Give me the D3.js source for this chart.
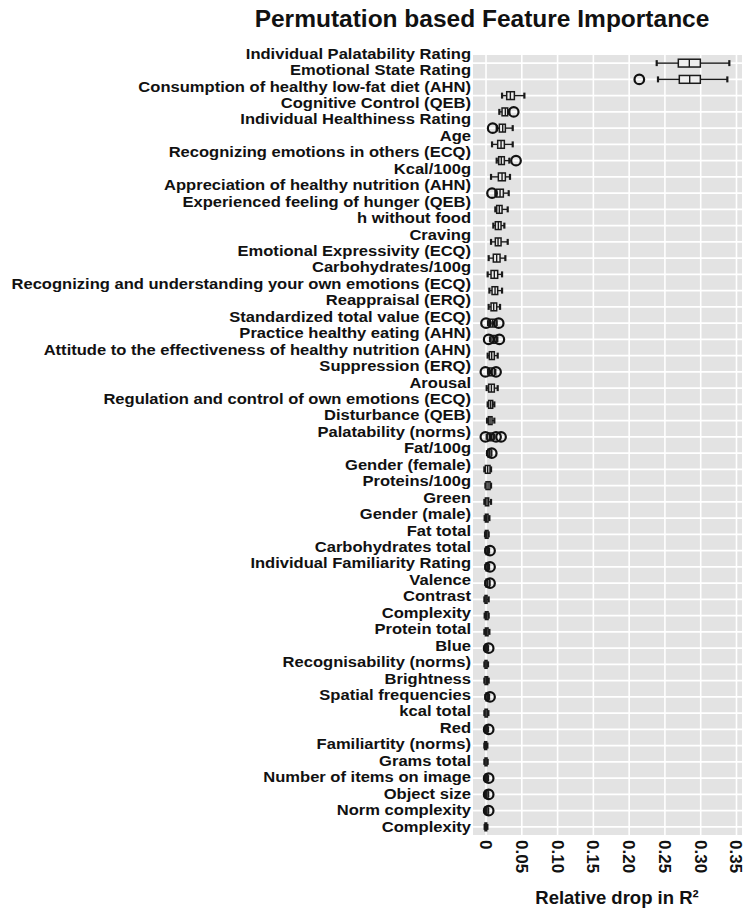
<!DOCTYPE html>
<html>
<head>
<meta charset="utf-8">
<script src="https://cdn.jsdelivr.net/npm/d3@7"></script>
<style>
  html, body { margin: 0; padding: 0; background: #ffffff; }
  svg { display: block; }
  text { font-family: "Liberation Sans", Arial, Helvetica, sans-serif; font-weight: bold; fill: #111; }
</style>
</head>
<body>
<div id="chart"></div>
<script>
const categories = [
  "Individual Palatability Rating",
  "Emotional State Rating",
  "Consumption of healthy low-fat diet (AHN)",
  "Cognitive Control (QEB)",
  "Individual Healthiness Rating",
  "Age",
  "Recognizing emotions in others (ECQ)",
  "Kcal/100g",
  "Appreciation of healthy nutrition (AHN)",
  "Experienced feeling of hunger (QEB)",
  "h without food",
  "Craving",
  "Emotional Expressivity (ECQ)",
  "Carbohydrates/100g",
  "Recognizing and understanding your own emotions (ECQ)",
  "Reappraisal (ERQ)",
  "Standardized total value (ECQ)",
  "Practice healthy eating (AHN)",
  "Attitude to the effectiveness of healthy nutrition (AHN)",
  "Suppression (ERQ)",
  "Arousal",
  "Regulation and control of own emotions (ECQ)",
  "Disturbance (QEB)",
  "Palatability (norms)",
  "Fat/100g",
  "Gender (female)",
  "Proteins/100g",
  "Green",
  "Gender (male)",
  "Fat total",
  "Carbohydrates total",
  "Individual Familiarity Rating",
  "Valence",
  "Contrast",
  "Complexity",
  "Protein total",
  "Blue",
  "Recognisability (norms)",
  "Brightness",
  "Spatial frequencies",
  "kcal total",
  "Red",
  "Familiartity (norms)",
  "Grams total",
  "Number of items on image",
  "Object size",
  "Norm complexity",
  "Complexity"
];

const whiskerLow = [0.2385, 0.2403, 0.0224, 0.0186, 0.0149, 0.0084, 0.0149, 0.0070, 0.0130, 0.0130, 0.0102, 0.0070,
  0.0037, 0.0023, 0.0047, 0.0037, 0.0028, 0.0056, 0.0023, 0.0028, 0.0009, 0.0023, 0.0014, 0.0009,
  0.0014, -0.0023, -0.0009, -0.0023, -0.0019, -0.0014, -0.0009, -0.0009, -0.0009, -0.0023, -0.0019, -0.0023,
  -0.0019, -0.0023, -0.0023, -0.0009, -0.0023, -0.0019, -0.0023, -0.0023, -0.0019, -0.0019, -0.0019, -0.0019];
const quartile1 = [0.2687, 0.2701, 0.0289, 0.0224, 0.0186, 0.0163, 0.0177, 0.0172, 0.0149, 0.0149, 0.0130, 0.0130,
  0.0102, 0.0070, 0.0084, 0.0070, 0.0047, 0.0070, 0.0047, 0.0047, 0.0037, 0.0037, 0.0033, 0.0023,
  0.0028, -0.0009, 0.0000, -0.0009, -0.0009, -0.0009, 0.0000, 0.0000, 0.0000, -0.0014, -0.0009, -0.0009,
  -0.0009, -0.0014, -0.0014, 0.0000, -0.0014, -0.0009, -0.0019, -0.0014, -0.0009, -0.0009, -0.0009, -0.0014];
const medians = [0.2841, 0.2846, 0.0340, 0.0270, 0.0233, 0.0210, 0.0214, 0.0224, 0.0196, 0.0186, 0.0172, 0.0168,
  0.0149, 0.0116, 0.0126, 0.0107, 0.0093, 0.0107, 0.0079, 0.0084, 0.0075, 0.0065, 0.0056, 0.0065,
  0.0047, 0.0023, 0.0028, 0.0014, 0.0009, 0.0009, 0.0019, 0.0019, 0.0023, 0.0000, 0.0009, 0.0009,
  0.0009, 0.0000, 0.0005, 0.0019, 0.0000, 0.0009, -0.0005, 0.0000, 0.0009, 0.0009, 0.0009, -0.0005];
const quartile3 = [0.2995, 0.2995, 0.0396, 0.0303, 0.0270, 0.0256, 0.0256, 0.0270, 0.0242, 0.0224, 0.0210, 0.0210,
  0.0196, 0.0163, 0.0163, 0.0149, 0.0140, 0.0149, 0.0116, 0.0116, 0.0116, 0.0093, 0.0084, 0.0102,
  0.0070, 0.0056, 0.0056, 0.0037, 0.0028, 0.0028, 0.0037, 0.0037, 0.0047, 0.0014, 0.0028, 0.0028,
  0.0023, 0.0014, 0.0023, 0.0037, 0.0019, 0.0023, 0.0009, 0.0014, 0.0023, 0.0028, 0.0028, 0.0009];
const whiskerHigh = [0.3400, 0.3372, 0.0536, 0.0326, 0.0373, 0.0373, 0.0326, 0.0335, 0.0317, 0.0303, 0.0256, 0.0303,
  0.0270, 0.0224, 0.0224, 0.0196, 0.0149, 0.0158, 0.0163, 0.0130, 0.0163, 0.0116, 0.0116, 0.0116,
  0.0075, 0.0070, 0.0070, 0.0070, 0.0047, 0.0037, 0.0042, 0.0042, 0.0050, 0.0037, 0.0037, 0.0047,
  0.0028, 0.0028, 0.0037, 0.0042, 0.0033, 0.0028, 0.0019, 0.0023, 0.0028, 0.0030, 0.0030, 0.0019];
const outliers = [[], [0.2142], [], [0.0387], [0.0093], [], [0.0419], [], [0.0084], [], [], [],
  [], [], [], [], [0.0000, 0.0177], [0.0037, 0.0186], [], [-0.0009, 0.0140], [], [], [], [-0.0009, 0.0140, 0.0210],
  [0.0080], [], [], [], [], [], [0.0056], [0.0056], [0.0056], [], [], [],
  [0.0037], [], [], [0.0056], [], [0.0037], [], [], [0.0037], [0.0037], [0.0037], []];

const xTicks = [0, 0.05, 0.10, 0.15, 0.20, 0.25, 0.30, 0.35];
const xTickLabels = ["0", "0.05", "0.10", "0.15", "0.20", "0.25", "0.30", "0.35"];
const chartTitle = "Permutation based Feature Importance";
const xTitle = "Relative drop in R²";

const W = 750, H = 911;
const panel = { left: 473, right: 742, top: 55, bottom: 835 };

const svg = d3.select("#chart").append("svg").attr("width", W).attr("height", H);

const x = d3.scaleLinear().domain([-0.0182, 0.3577]).range([panel.left, panel.right]);
const idx = categories.map((d, i) => i);
const y = d3.scaleBand().domain(idx).range([panel.top, panel.bottom]).padding(0);
const yLab = d3.scaleBand().domain(idx).range([45.8, 835.2]).padding(0);
const bw = y.bandwidth();
const cy = i => y(i) + bw / 2;

// panel background
svg.append("rect").attr("x", panel.left).attr("y", panel.top)
  .attr("width", panel.right - panel.left).attr("height", panel.bottom - panel.top)
  .attr("fill", "#e3e3e3");

// grid
const grid = svg.append("g");
grid.selectAll("line.v").data(xTicks).join("line")
  .attr("x1", d => x(d)).attr("x2", d => x(d))
  .attr("y1", panel.top).attr("y2", panel.bottom)
  .attr("stroke", "#ffffff").attr("stroke-width", 1.6);
grid.selectAll("line.h").data(idx).join("line")
  .attr("x1", panel.left).attr("x2", panel.right)
  .attr("y1", d => cy(d)).attr("y2", d => cy(d))
  .attr("stroke", "#ffffff").attr("stroke-width", 1.6);

// boxplots
const boxH = 7.8, capH = 6;
const g = svg.append("g");
idx.forEach(i => {
  const c = cy(i);
  const row = g.append("g");
  row.append("line").attr("x1", x(whiskerLow[i])).attr("x2", x(quartile1[i]))
    .attr("y1", c).attr("y2", c).attr("stroke", "#1a1a1a").attr("stroke-width", 1.4);
  row.append("line").attr("x1", x(quartile3[i])).attr("x2", x(whiskerHigh[i]))
    .attr("y1", c).attr("y2", c).attr("stroke", "#1a1a1a").attr("stroke-width", 1.4);
  [whiskerLow[i], whiskerHigh[i]].forEach(v => {
    row.append("line").attr("x1", x(v)).attr("x2", x(v))
      .attr("y1", c - capH / 2).attr("y2", c + capH / 2)
      .attr("stroke", "#1a1a1a").attr("stroke-width", 2.2);
  });
  row.append("rect").attr("x", x(quartile1[i])).attr("y", c - boxH / 2)
    .attr("width", Math.max(0.5, x(quartile3[i]) - x(quartile1[i]))).attr("height", boxH)
    .attr("fill", "#eeeeee").attr("stroke", "#1a1a1a").attr("stroke-width", 1.5);
  row.append("line").attr("x1", x(medians[i])).attr("x2", x(medians[i]))
    .attr("y1", c - boxH / 2).attr("y2", c + boxH / 2)
    .attr("stroke", "#1a1a1a").attr("stroke-width", 1.4);
  row.selectAll("circle").data(outliers[i]).join("circle")
    .attr("cx", d => x(d)).attr("cy", c).attr("r", 4.8)
    .attr("fill", "none").attr("stroke", "#111").attr("stroke-width", 2.2);
});

// y axis labels (slightly widened glyphs, as in the reference)
const yAxis = d3.axisLeft(yLab).tickSize(0).tickPadding(0).tickFormat(i => categories[i]);
const ya = svg.append("g").attr("transform", `translate(471,0)`).call(yAxis);
ya.select(".domain").remove();
ya.selectAll("text").attr("font-size", 14.4).attr("fill", "#111")
  .style("font-family", '"Liberation Sans", Arial, sans-serif').style("font-weight", "bold")
  .attr("transform", "scale(1.15,1)");

// x axis
const xAxis = d3.axisBottom(x).tickValues(xTicks).tickSize(0).tickPadding(0)
  .tickFormat((d, i) => xTickLabels[i]);
const xa = svg.append("g").attr("transform", `translate(0,${panel.bottom})`).call(xAxis);
xa.select(".domain").remove();
xa.selectAll("text")
  .attr("font-size", 17).attr("fill", "#111")
  .style("font-family", '"Liberation Sans", Arial, sans-serif').style("font-weight", "bold")
  .attr("text-anchor", "start").attr("dy", null).attr("y", 0).attr("x", 0)
  .attr("dominant-baseline", "central")
  .attr("transform", "translate(-1,5) rotate(90)");

// titles
svg.append("text").attr("x", 482).attr("y", 27).attr("text-anchor", "middle")
  .attr("font-size", 24.5).text(chartTitle);
svg.append("text").attr("x", 617).attr("y", 904).attr("text-anchor", "middle")
  .attr("font-size", 18.5).text(xTitle);
</script>
</body>
</html>
